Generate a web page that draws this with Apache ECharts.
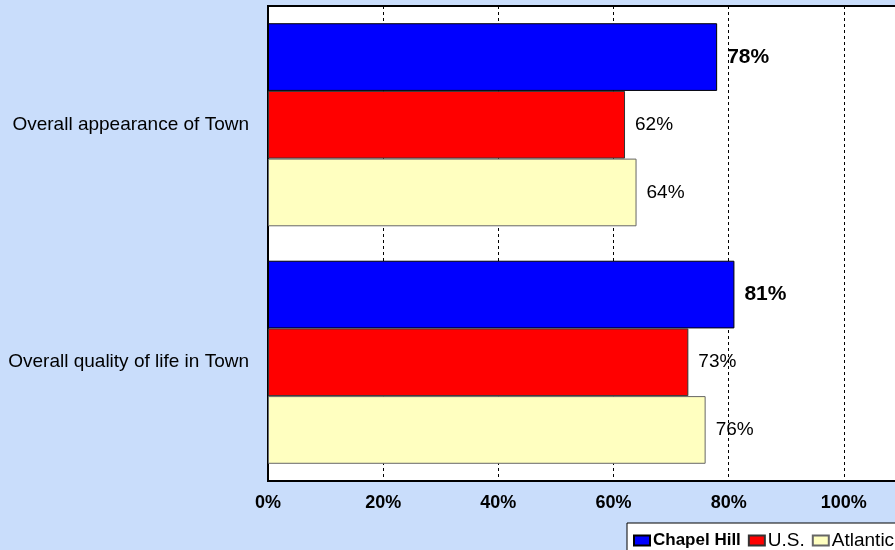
<!DOCTYPE html>
<html>
<head>
<meta charset="utf-8">
<script src="https://cdn.jsdelivr.net/npm/echarts@6/dist/echarts.min.js"></script>
<style>
html, body { margin: 0; padding: 0; background: #c9ddfb; }
#chart { width: 895px; height: 550px; }
</style>
</head>
<body>
<div id="chart"></div>
<script>
var categories = ['Overall appearance of Town', 'Overall quality of life in Town'];
var chapelHill = [78, 81];
var us = [62, 73];
var atlantic = [64, 76];
var xTicks = [0, 20, 40, 60, 80, 100, 120];

var font = 'Liberation Sans, Arial, sans-serif';

function bar(name, data, color, border, bold) {
	return {
		name: name,
		type: 'bar',
		data: data,
		barGap: 0,
		barCategoryGap: '14.5%',
		itemStyle: {
			color: color,
			borderColor: border,
			borderWidth: 1
		},
		label: {
			show: true,
			position: 'right',
			distance: 10,
			formatter: '{c}%',
			color: '#000',
			fontFamily: font,
			fontSize: bold ? 21 : 19,
			fontWeight: bold ? 'bold' : 'normal'
		}
	};
}

var myChart = echarts.init(document.getElementById('chart'));
var option = {
	backgroundColor: '#c9ddfb',
	animation: false,
	textStyle: { fontFamily: font },
	grid: {
		left: 268,
		top: 6,
		width: 691,
		height: 475,
		outerBoundsMode: 'none',
		show: true,
		backgroundColor: '#fff',
		borderColor: '#000',
		borderWidth: 2
	},
	legend: {
		left: 627,
		top: 523,
		width: 320,
		itemWidth: 16,
		itemHeight: 10,
		itemGap: 7,
		padding: [8, 12, 4, 6],
		backgroundColor: '#fff',
		borderColor: '#000',
		borderWidth: 1,
		borderRadius: 0,
		icon: 'rect',
		textStyle: {
			color: '#000',
			fontSize: 19,
			fontFamily: font,
			padding: [0, 0, 0, -2],
			rich: { b: { fontWeight: 'bold', fontSize: 17, fontFamily: font } }
		},
		formatter: function (name) {
			return name == 'Chapel Hill' ? '{b|' + name + '}' : name;
		},
		data: ['Chapel Hill', 'U.S.', 'Atlantic']
	},
	xAxis: {
		type: 'value',
		min: xTicks[0],
		max: xTicks[xTicks.length - 1],
		interval: 20,
		axisLine: { show: true, lineStyle: { color: '#000', width: 2 } },
		axisTick: { show: false },
		axisLabel: {
			formatter: '{value}%',
			color: '#000',
			fontWeight: 'bold',
			fontSize: 18,
			margin: 13,
			fontFamily: font
		},
		splitLine: { show: true, lineStyle: { color: '#000', type: [3, 3], width: 1 } }
	},
	yAxis: {
		type: 'category',
		inverse: true,
		data: categories,
		axisLine: { show: true, lineStyle: { color: '#000', width: 2 } },
		axisTick: { show: false },
		axisLabel: { color: '#000', fontSize: 19, margin: 19, fontFamily: font }
	},
	series: [
		bar('Chapel Hill', chapelHill, '#0000ff', '#000', true),
		bar('U.S.', us, '#ff0000', '#333', false),
		bar('Atlantic', atlantic, '#ffffc0', '#666', false)
	]
};
myChart.setOption(option);
</script>
</body>
</html>
